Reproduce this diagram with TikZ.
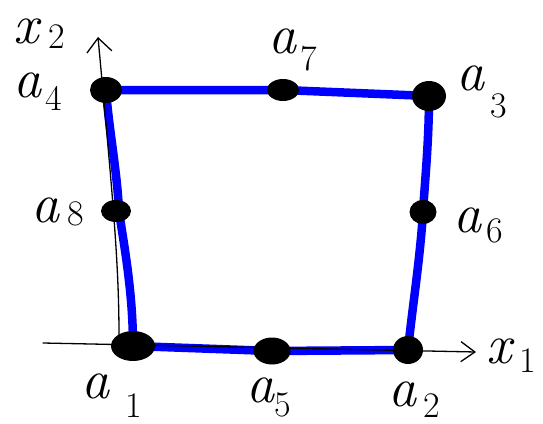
\documentclass[tikz,border=0pt]{standalone}
\usepackage{fontspec}
\usetikzlibrary{shapes.geometric,arrows.meta,backgrounds}
\definecolor{penblue}{RGB}{0,0,255}
\newcommand{\lab}[4]{\itshape #1\hspace{#3}\raisebox{-#4}{\fontsize{36}{36}\selectfont\upshape #2}}
\tikzset{
  dot/.style={ellipse,fill=black,inner sep=0pt},
  lbl/.style={font=\fontsize{56}{56}\selectfont,anchor=base west,inner sep=0pt},
  edge/.style={draw=penblue,line width=8.5pt,line cap=round,line join=round},
  axis/.style={draw=black,line width=1.3pt,line cap=round}
}
\begin{document}
\begin{tikzpicture}[x=1pt,y=-1pt]
\useasboundingbox (0,0) rectangle (543,423);
% dots
\node[dot,minimum width=32pt,minimum height=26pt] (a4) at (106,90) {};
\node[dot,minimum width=32pt,minimum height=22pt] (a7) at (283,90) {};
\node[dot,minimum width=34pt,minimum height=30pt] (a3) at (429,96) {};
\node[dot,minimum width=27pt,minimum height=24pt] (a6) at (423,212) {};
\node[dot,minimum width=30pt,minimum height=28pt] (a2) at (408,350) {};
\node[dot,minimum width=37pt,minimum height=27pt] (a5) at (272,351) {};
\node[dot,minimum width=44pt,minimum height=30pt] (a1) at (133,346) {};
\node[dot,minimum width=30pt,minimum height=22pt] (a8) at (116,211) {};
% axis ends
\coordinate (o1) at (43,343);
\coordinate (x1end) at (476,352);
\coordinate (o2) at (119,336);
\coordinate (x2end) at (98,37);
\begin{scope}[on background layer]
  \draw[edge] (a4.center) -- (a7.center) -- (a3.center)
    .. controls (429,140) and (425,180) .. (a6.center)
    .. controls (420,260) and (412,310) .. (a2.center)
    -- (a5.center) -- (a1.center)
    .. controls (133,290) and (123,240) .. ([xshift=3pt]a8.center)
    .. controls (117,170) and (109,130) .. (a4.center);
  \draw[axis,-{Straight Barb[length=14pt,width=20pt,line width=1.3pt]}] (o1) -- (x1end);
  \draw[axis,-{Straight Barb[length=14pt,width=25pt,line width=1.3pt]}] (o2)
    .. controls (119,260) and (112,190) .. (x2end);
\end{scope}
% labels
\node[lbl] (lx2) at (13,43) {\lab{x}{2}{10pt}{5pt}};
\node[lbl] (la4) at (13,97) {\lab{a}{4}{4pt}{13pt}};
\node[lbl] (la8) at (31,222) {\lab{a}{8}{8pt}{3pt}};
\node[lbl] (la1) at (81,398) {\lab{a}{1}{16pt}{19pt}};
\node[lbl] (la5) at (246,402) {\lab{a}{5}{0pt}{14pt}};
\node[lbl] (la2) at (388,406) {\lab{a}{2}{7pt}{11pt}};
\node[lbl] (lx1) at (486,363) {\lab{x}{1}{8pt}{9pt}};
\node[lbl] (la6) at (453,232) {\lab{a}{6}{5pt}{10pt}};
\node[lbl] (la3) at (456,90) {\lab{a}{3}{6pt}{27pt}};
\node[lbl] (la7) at (268,53) {\lab{a}{7}{4pt}{17pt}};
\end{tikzpicture}
\end{document}
